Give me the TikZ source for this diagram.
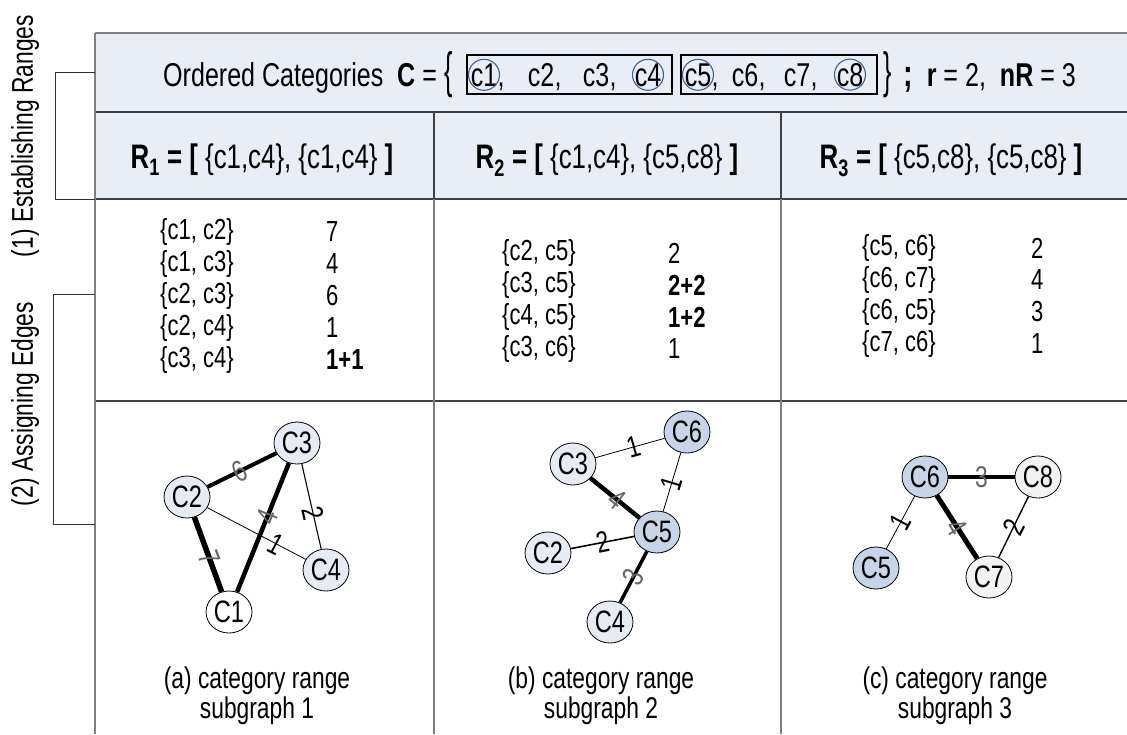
\documentclass[tikz,border=0pt]{standalone}
\usepackage{fontspec}
\setmainfont{Liberation Sans}[FakeStretch=0.76]
\usepackage{tikz}
\usetikzlibrary{shapes.geometric,positioning}
\definecolor{hdrfill}{HTML}{E9EDF5}
\definecolor{lightnode}{HTML}{E6EBF4}
\definecolor{darknode}{HTML}{C8D5E8}
\definecolor{graynode}{HTML}{F3F3F3}
\definecolor{ringcol}{HTML}{44618E}
\definecolor{labgray}{HTML}{666666}
\definecolor{rulecol}{HTML}{404040}
\definecolor{splitcol}{HTML}{7F7F7F}

\tikzset{
  rule/.style={rulecol, line width=1.3pt},
  split/.style={splitcol, line width=1.5pt},
  bracket/.style={black!80, line width=1pt},
  hdr/.style={inner sep=0pt, font=\fontsize{33}{36}\selectfont},
  catbox/.style={draw, line width=1.3pt, minimum width=205pt, minimum height=39pt, inner sep=0pt},
  rlab/.style={anchor=base, inner sep=0pt, font=\fontsize{34}{36}\selectfont},
  pair/.style={anchor=west, inner sep=0pt, font=\fontsize{29}{32}\selectfont},
  gnode/.style={ellipse, draw, line width=0.8pt, minimum width=46pt, minimum height=42pt,
    inner sep=0pt, font=\fontsize{31}{32}\selectfont},
  wlab/.style={sloped, inner sep=0pt, font=\fontsize{30}{30}\selectfont},
  heavylab/.style={text=labgray},
  captxt/.style={align=center, font=\fontsize{30}{30}\selectfont},
  side/.style={rotate=90, inner sep=0pt, font=\fontsize{30}{30}\selectfont},
}

\begin{document}
\begin{tikzpicture}[x=1pt,y=-1pt]
  \useasboundingbox (0,0) rectangle (1127,734);

  % table frame
  \fill[hdrfill] (95,33) rectangle (1130,199);
  \draw[split] (95,33) -- (1130,33);
  \draw[rule] (95,112) -- (1130,112);
  \draw[rule] (95,199) -- (1130,199);
  \draw[rule] (95,401) -- (1130,401);
  \draw[split] (95,33) -- (95,734);
  \draw[rule] (434,112) -- (434,199);
  \draw[rule] (781,112) -- (781,199);
  \draw[split] (434,199) -- (434,734);
  \draw[split] (781,199) -- (781,734);

  % side brackets
  \draw[bracket] (95,72) -- (55,72) -- (55,199) -- (95,199);
  \draw[bracket] (95,294) -- (53,294) -- (53,524) -- (95,524);
  \node[side] (step1) at (25,136) {(1) Establishing Ranges};
  \node[side] (step2) at (25,404) {(2) Assigning Edges};

  % ordered categories
  \node[hdr, anchor=base west] (title) at (163,86) {Ordered Categories};
  \node[hdr, anchor=base west] (ceq) at (397,86) {\textbf{C} =};
  \node[hdr] (lbr) at (449,75) {\scalebox{1}[1.5]{\{}};
  \node[catbox] (box1) at (569.5,74.5) {};
  \node[catbox, minimum width=196pt] (box2) at (779,74.5) {};
  \foreach \k/\x in {1/484,2/541,3/596,4/648,5/698,6/745,7/797,8/850}
    \node[hdr, anchor=base] (k\k) at (\x,86) {c\k};
  \foreach \k in {1,2,3,5,6,7}
    \node[hdr, anchor=base west] (m\k) at (k\k.base east) {,};
  \foreach \k in {1,4,5,8}
    \draw[ringcol, line width=1.1pt] (k\k.center) circle (15.5pt);
  \node[hdr] (rbr) at (888,75) {\scalebox{1}[1.5]{\}}};
  \node[hdr, anchor=base west] (params) at (903,86)
    {\scalebox{1.15}{\textbf{;}}\ \ \textbf{r} = 2,\ \ \textbf{nR} = 3};

  % ranges
  \node[rlab] (r1) at (262,168) {\textbf{R\textsubscript{1} = [} \{c1,c4\}, \{c1,c4\} \textbf{]}};
  \node[rlab] (r2) at (607,168) {\textbf{R\textsubscript{2} = [} \{c1,c4\}, \{c5,c8\} \textbf{]}};
  \node[rlab] (r3) at (951,168) {\textbf{R\textsubscript{3} = [} \{c5,c8\}, \{c5,c8\} \textbf{]}};

  % edge counts
  \foreach \u/\v/\w [count=\i] in {1/2/7, 1/3/4, 2/3/6, 2/4/1, 3/4/\textbf{1+1}} {
    \node[pair] (pa\i) at (160,200+32*\i) {\{c\u, c\v\}};
    \node[pair] (wa\i) at (326,200+32*\i) {\w};
  }
  \foreach \u/\v/\w [count=\i] in {2/5/2, 3/5/\textbf{2+2}, 4/5/\textbf{1+2}, 3/6/1} {
    \node[pair] (pb\i) at (502,221+32*\i) {\{c\u, c\v\}};
    \node[pair] (wb\i) at (668,221+32*\i) {\w};
  }
  \foreach \u/\v/\w [count=\i] in {5/6/2, 6/7/4, 6/5/3, 7/6/1} {
    \node[pair] (pc\i) at (862,216+32*\i) {\{c\u, c\v\}};
    \node[pair] (wc\i) at (1031,216+32*\i) {\w};
  }

  % subgraph 1
  \node[gnode, fill=white] (a1) at (229,612) {C1};
  \node[gnode, fill=lightnode] (a2) at (187,497) {C2};
  \node[gnode, fill=lightnode] (a3) at (297,443) {C3};
  \node[gnode, fill=lightnode] (a4) at (326,570) {C4};
  \draw[line width=5.5pt] (a1) -- node[wlab, heavylab, pos=0.45] (ea12) {7} (a2);
  \draw[line width=4.5pt] (a1) -- node[wlab, heavylab, pos=0.58] (ea13) {4} (a3);
  \draw[line width=4pt] (a2) -- node[wlab, heavylab, pos=0.46] (ea23) {6} (a3);
  \draw[line width=0.8pt] (a2) -- node[wlab, pos=0.7] (ea24) {1} (a4);
  \draw[line width=1.1pt] (a3) -- node[wlab, pos=0.58] (ea34) {2} (a4);

  % subgraph 2
  \node[gnode, fill=lightnode] (b2) at (548,553) {C2};
  \node[gnode, fill=lightnode] (b3) at (573,464) {C3};
  \node[gnode, fill=lightnode] (b4) at (610,622) {C4};
  \node[gnode, fill=darknode] (b5) at (657,532) {C5};
  \node[gnode, fill=darknode] (b6) at (687,432) {C6};
  \draw[line width=0.8pt] (b3) -- node[wlab, pos=0.56] (eb36) {1} (b6);
  \draw[line width=4.5pt] (b3) -- node[wlab, heavylab, pos=0.54] (eb35) {4} (b5);
  \draw[line width=0.8pt] (b6) -- node[wlab, pos=0.53] (eb65) {1} (b5);
  \draw[line width=1.6pt] (b2) -- node[wlab, pos=0.5] (eb25) {2} (b5);
  \draw[line width=3.5pt] (b5) -- node[wlab, heavylab, pos=0.5] (eb54) {3} (b4);

  % subgraph 3
  \node[gnode, fill=darknode] (c5) at (876,568) {C5};
  \node[gnode, fill=darknode] (c6) at (925,477) {C6};
  \node[gnode, fill=graynode] (c7) at (989,577) {C7};
  \node[gnode, fill=graynode] (c8) at (1038,477) {C8};
  \draw[line width=3.5pt] (c6) -- node[wlab, heavylab, pos=0.5] (ec68) {3} (c8);
  \draw[line width=5pt] (c6) -- node[wlab, heavylab, pos=0.5] (ec67) {4} (c7);
  \draw[line width=0.8pt] (c6) -- node[wlab, pos=0.5] (ec65) {1} (c5);
  \draw[line width=1.4pt] (c8) -- node[wlab, pos=0.5] (ec87) {2} (c7);

  % captions
  \node[captxt] (capa) at (257,696) {(a) category range\\subgraph 1};
  \node[captxt] (capb) at (601,696) {(b) category range\\subgraph 2};
  \node[captxt] (capc) at (955,696) {(c) category range\\subgraph 3};
\end{tikzpicture}
\end{document}
